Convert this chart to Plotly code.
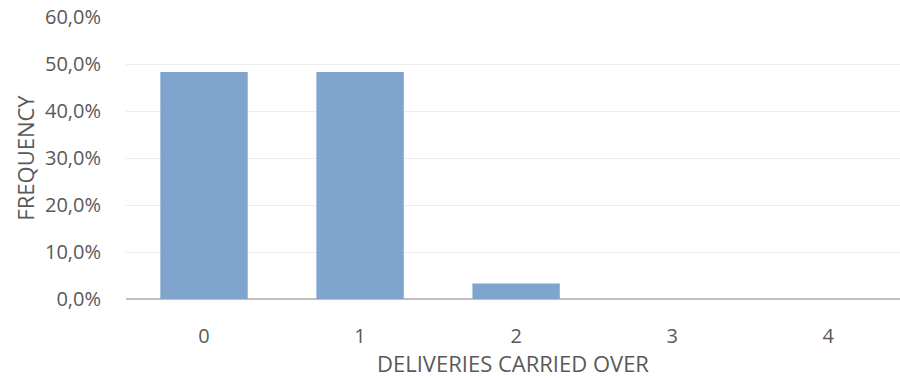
import plotly.graph_objects as go

categories = ["0", "1", "2", "3", "4"]
frequency = [0.483, 0.483, 0.033, 0.0, 0.0]
y_ticks = [0.0, 0.1, 0.2, 0.3, 0.4, 0.5, 0.6]

fig = go.Figure(
    go.Bar(
        x=[0, 1, 2, 3, 4],
        y=frequency,
        marker=dict(color="#7fa5cf", line=dict(width=0)),
        width=0.56,
    )
)

font_family = "'Open Sans', Lato, sans-serif"
fig.update_layout(
    width=900,
    height=378,
    margin=dict(l=126, r=0, t=17, b=79),
    paper_bgcolor="white",
    plot_bgcolor="white",
    separators=",.",
    showlegend=False,
    font=dict(family=font_family, color="#595959", size=20),
)
fig.update_xaxes(
    range=[-0.5, 4.46],
    tickmode="array",
    tickvals=[0, 1, 2, 3, 4],
    ticktext=categories,
    showgrid=False,
    zeroline=False,
    showline=False,
    ticks="outside",
    ticklen=19,
    tickcolor="rgba(0,0,0,0)",
    tickfont=dict(size=20, color="#595959"),
    title=dict(text="DELIVERIES CARRIED OVER", font=dict(size=22, color="#595959"), standoff=8),
)
fig.update_yaxes(
    range=[0, 0.6],
    tickmode="array",
    tickvals=y_ticks,
    tickformat=".1%",
    showgrid=True,
    gridcolor="#ececec",
    gridwidth=1,
    zeroline=True,
    zerolinecolor="#bfbfbf",
    zerolinewidth=2,
    ticks="outside",
    ticklen=20,
    tickcolor="rgba(0,0,0,0)",
    tickfont=dict(size=20, color="#595959"),
    title=dict(text="FREQUENCY", font=dict(size=22, color="#595959"), standoff=4),
)

fig.write_html("out.html")
